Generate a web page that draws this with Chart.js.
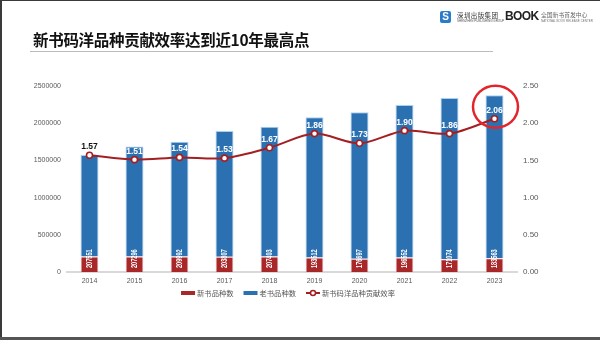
<!DOCTYPE html>
<html>
<head>
<meta charset="utf-8">
<script src="https://cdn.jsdelivr.net/npm/chart.js@4.4.1/dist/chart.umd.min.js"></script>
<style>
  html,body{margin:0;padding:0;background:#fff;}
  #wrap{position:relative;width:600px;height:340px;overflow:hidden;background:#fff;}
  #c{position:absolute;left:0;top:0;}
  .b{position:absolute;background:#3a3a3a;}
  #title{position:absolute;left:33px;top:30px;font-family:"Noto Sans CJK SC","Noto Sans",sans-serif;font-weight:700;font-size:15.5px;color:#111;letter-spacing:-0.3px;white-space:nowrap;line-height:18px;}
  #rule{position:absolute;left:30px;top:51px;width:463px;height:1px;background:#bdbdbd;}
  .lg{position:absolute;white-space:nowrap;font-family:"Noto Sans CJK SC",sans-serif;}
</style>
</head>
<body>
<div id="wrap">
  <canvas id="c" width="600" height="340"></canvas>
  <div id="title">新书码洋品种贡献效率达到近10年最高点</div>
  <div id="rule"></div>
  <!-- header logos -->
  <div class="lg" style="left:440px;top:11px;width:11px;height:12px;background:#2a7bc8;border-radius:2px;color:#fff;font:bold 10px 'Liberation Sans';text-align:center;line-height:12px;">S</div>
  <div class="lg" style="left:457px;top:11px;font-size:6.5px;color:#333;letter-spacing:0.4px;line-height:8px;">深圳出版集团</div>
  <div class="lg" style="left:457px;top:19px;font:3px 'Liberation Sans';color:#555;line-height:4px;">SHENZHEN PUBLISHING GROUP</div>
  <div class="lg" style="left:505px;top:9px;font:900 12px 'Liberation Sans';color:#222;letter-spacing:-0.6px;line-height:14px;">BOOK</div>
  <div class="lg" style="left:541px;top:11px;font-size:5.8px;color:#666;line-height:7px;">全国新书首发中心</div>
  <div class="lg" style="left:541px;top:19px;font:3px 'Liberation Sans';color:#777;line-height:4px;">NATIONAL BOOK RELEASE CENTER</div>
  <!-- frame -->
  <div class="b" style="left:0;top:0;width:600px;height:1px;"></div>
  <div class="b" style="left:0;top:0;width:2px;height:340px;"></div>
  <div class="b" style="left:0;top:337px;width:600px;height:3px;background:#555;"></div>
</div>
<script>
const years = ['2014','2015','2016','2017','2018','2019','2020','2021','2022','2023'];
const newBooks = [207551, 207296, 209992, 203807, 207403, 193512, 176697, 196552, 171074, 183563];
const oldBooks = [1364000, 1478000, 1541000, 1691000, 1746000, 1885000, 1969000, 2048000, 2168000, 2191000];
const efficiency = [1.57, 1.51, 1.54, 1.53, 1.67, 1.86, 1.73, 1.90, 1.86, 2.06];
const leftTicks = [0, 500000, 1000000, 1500000, 2000000, 2500000];
const rightTicks = [0, 0.5, 1.0, 1.5, 2.0, 2.5];
const seriesNames = ['新书品种数', '老书品种数', '新书码洋品种贡献效率'];

const RED = '#a8282a', BLUE = '#2b71b1', LINE = '#a31f21';
const TICKFONT = '"Liberation Sans", Arial, sans-serif';

const labelPlugin = {
  id: 'labels',
  afterDatasetsDraw(chart) {
    const ctx = chart.ctx;
    const lineMeta = chart.getDatasetMeta(0);
    const redMeta = chart.getDatasetMeta(1);
    const blueMeta = chart.getDatasetMeta(2);
    ctx.save();
    // vertical condensed labels on new-book bars
    ctx.font = 'bold 8.5px "Liberation Sans", Arial, sans-serif';
    ctx.fillStyle = '#fff';
    ctx.textAlign = 'left';
    ctx.textBaseline = 'middle';
    redMeta.data.forEach((bar, i) => {
      ctx.save();
      ctx.translate(bar.x, bar.base - 4);
      ctx.rotate(-Math.PI / 2);
      ctx.scale(0.66, 1);
      ctx.fillText(String(newBooks[i]), 0, 0.5);
      ctx.restore();
    });
    // efficiency labels
    ctx.font = 'bold 8.5px "Liberation Sans", Arial, sans-serif';
    ctx.textAlign = 'center';
    ctx.textBaseline = 'alphabetic';
    lineMeta.data.forEach((pt, i) => {
      const y = pt.y - 6;
      const top = blueMeta.data[i].y;
      ctx.fillStyle = (y < top) ? '#111' : '#fff';
      ctx.fillText(efficiency[i].toFixed(2), pt.x, y);
    });
    // highlight ring on last point
    const last = lineMeta.data[lineMeta.data.length - 1];
    ctx.strokeStyle = '#e2252b';
    ctx.lineWidth = 2.5;
    ctx.beginPath();
    ctx.ellipse(last.x + 1, last.y - 12, 22.5, 21, 0, 0, Math.PI * 2);
    ctx.stroke();
    ctx.restore();
  },
  afterDraw(chart) {
    // legend
    const ctx = chart.ctx;
    const area = chart.chartArea;
    ctx.save();
    ctx.font = '7.3px "Noto Sans CJK SC", sans-serif';
    ctx.textBaseline = 'middle';
    ctx.textAlign = 'left';
    const sw = 14, gap = 2, itemGap = 10;
    const widths = seriesNames.map(n => sw + gap + ctx.measureText(n).width);
    const total = widths.reduce((a, b) => a + b, 0) + itemGap * (widths.length - 1);
    let x = (area.left + area.right) / 2 - total / 2 - 4;
    const y = 293;
    const colors = [RED, BLUE, LINE];
    seriesNames.forEach((n, i) => {
      if (i < 2) {
        ctx.fillStyle = colors[i];
        ctx.fillRect(x, y - 2, sw, 4);
      } else {
        ctx.strokeStyle = LINE;
        ctx.lineWidth = 2;
        ctx.beginPath(); ctx.moveTo(x, y); ctx.lineTo(x + sw, y); ctx.stroke();
        ctx.fillStyle = '#fff';
        ctx.lineWidth = 1.5;
        ctx.beginPath(); ctx.arc(x + sw / 2, y, 2.5, 0, Math.PI * 2); ctx.fill(); ctx.stroke();
      }
      ctx.fillStyle = '#555';
      ctx.fillText(n, x + sw + gap, y);
      x += widths[i] + itemGap;
    });
    ctx.restore();
  }
};

new Chart(document.getElementById('c'), {
  data: {
    labels: years,
    datasets: [
      {
        type: 'line', label: seriesNames[2], data: efficiency, yAxisID: 'y1',
        borderColor: LINE, borderWidth: 2, tension: 0.3,
        pointRadius: 3, pointBackgroundColor: '#fff', pointBorderColor: LINE, pointBorderWidth: 1.6,
        order: 0
      },
      {
        type: 'bar', label: seriesNames[0], data: newBooks, yAxisID: 'y', stack: 's',
        backgroundColor: RED, borderColor: 'rgba(255,200,200,0.55)', borderWidth: 1,
        barPercentage: 0.4, categoryPercentage: 1, order: 1
      },
      {
        type: 'bar', label: seriesNames[1], data: oldBooks, yAxisID: 'y', stack: 's',
        backgroundColor: BLUE, borderColor: 'rgba(150,195,235,0.8)', borderWidth: 1,
        barPercentage: 0.4, categoryPercentage: 1, order: 1
      }
    ]
  },
  options: {
    responsive: false,
    animation: false,
    layout: { padding: { top: 86, left: 0, right: 0, bottom: 0 } },
    plugins: { legend: { display: false }, tooltip: { enabled: false }, title: { display: false } },
    scales: {
      x: {
        stacked: true,
        grid: { display: false, drawTicks: false },
        border: { display: true, color: '#d9d9d9', width: 2 },
        ticks: { color: '#595959', font: { size: 7, family: TICKFONT }, padding: 5, maxRotation: 0 },
        afterFit(s) { s.height = 68; }
      },
      y: {
        stacked: true, position: 'left', min: 0, max: 2500000,
        afterBuildTicks(s) { s.ticks = leftTicks.map(v => ({ value: v })); },
        grid: { display: false, drawTicks: false },
        border: { display: false },
        ticks: { color: '#595959', font: { size: 7, family: TICKFONT }, padding: 6,
                 callback: v => String(v) },
        afterFit(s) { s.width = 67; }
      },
      y1: {
        position: 'right', min: 0, max: 2.5,
        afterBuildTicks(s) { s.ticks = rightTicks.map(v => ({ value: v })); },
        grid: { display: false, drawTicks: false },
        border: { display: false },
        ticks: { color: '#595959', font: { size: 8, family: TICKFONT }, padding: 6,
                 callback: v => Number(v).toFixed(2) },
        afterFit(s) { s.width = 83; }
      }
    }
  },
  plugins: [labelPlugin]
});
</script>
</body>
</html>
